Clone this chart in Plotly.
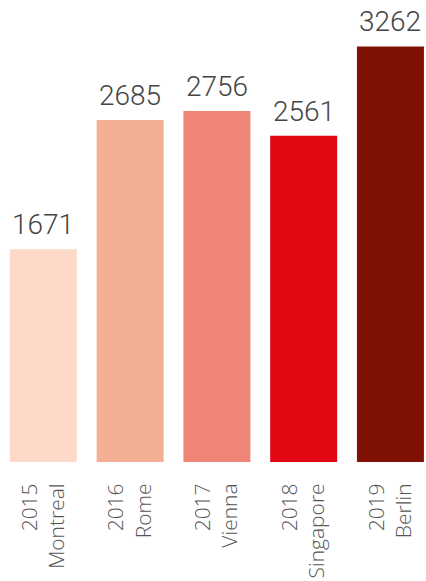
import plotly.graph_objects as go

years = ["2015", "2016", "2017", "2018", "2019"]
cities = ["Montreal", "Rome", "Vienna", "Singapore", "Berlin"]
values = [1671, 2685, 2756, 2561, 3262]
colors = ["#fdd9ca", "#f4ae94", "#f08575", "#e30613", "#7e1004"]

cats = [f"{y}<br>{c}" for y, c in zip(years, cities)]

fig = go.Figure(go.Bar(
    x=cats, y=values,
    marker=dict(color=colors, line=dict(width=0)),
    hoverinfo="skip",
))

for c, v in zip(cats, values):
    fig.add_annotation(
        x=c, y=v, text=str(v), showarrow=False,
        xanchor="center", yanchor="bottom", yshift=6,
        font=dict(family="Roboto", size=28, color="#444444", weight=300),
    )

fig.update_layout(
    width=426, height=581,
    margin=dict(l=0, r=0, t=0, b=119),
    paper_bgcolor="white", plot_bgcolor="white",
    bargap=0.228,
    showlegend=False,
    xaxis=dict(
        range=[-0.5, 4.41],
        tickangle=-90,
        tickfont=dict(family="Open Sans", size=21, color="#555555", weight=300),
        showgrid=False, zeroline=False, showline=False,
        ticks="outside", ticklen=12, tickcolor="rgba(0,0,0,0)",
        automargin=False,
    ),
    yaxis=dict(
        range=[0, 3627],
        visible=False,
    ),
)

fig.write_html(
    "out.html",
    config={"displayModeBar": False, "staticPlot": True},
    post_script="document.body.style.margin='0';document.body.style.overflow='hidden';",
)
